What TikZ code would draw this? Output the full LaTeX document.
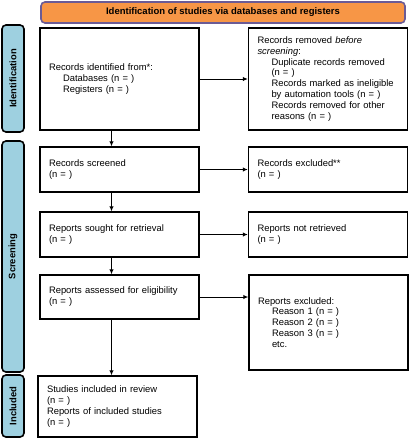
\documentclass[tikz,border=0pt]{standalone}
\usepackage{fontspec}
\setmainfont{Liberation Sans}
\usetikzlibrary{arrows.meta}

\definecolor{headfill}{HTML}{F79646}
\definecolor{headline}{HTML}{6B5B95}
\definecolor{barfill}{HTML}{9ED0E0}

\tikzset{
  box/.style={draw=black, line width=1.4pt, fill=white, text width=141pt, inner xsep=9pt,
    align=left, minimum width=159pt, font=\fontsize{9.4}{10.9}\selectfont},
  bar/.style={draw=black, line width=1.6pt, fill=barfill, rounded corners=4pt, rotate=90,
    minimum height=22pt, inner sep=0pt, font=\fontsize{9.4}{11}\selectfont\bfseries},
  head/.style={draw=headline, line width=1.6pt, fill=headfill, rounded corners=4pt,
    minimum width=364pt, minimum height=21pt, font=\fontsize{9.5}{11}\selectfont\bfseries},
  arr/.style={-{Latex[length=5pt,width=4.5pt]}, line width=1pt},
}
\newcommand\ind{\hspace*{14pt}}

\begin{document}
\begin{tikzpicture}[x=1pt, y=-1pt]
  \useasboundingbox (0,0) rectangle (410,440);

  % header
  \node[head] (hdr) at (223,12.5) {Identification of studies via databases and registers};

  % side bars
  \node[bar, minimum width=107pt] (idbar) at (13,78.5) {Identification};
  \node[bar, minimum width=231pt] (scrbar) at (13,256.5) {Screening};
  \node[bar, minimum width=62pt] (incbar) at (13,406) {Included};

  % identification
  \node[box, minimum height=102pt] (ident) at (119.5,79)
    {Records identified from*:\\ \ind Databases (n = )\\ \ind Registers (n = )};
  \node[box, minimum height=102pt] (removed) at (328,79)
    {Records removed \textit{before}\\ \textit{screening}:\\
     \ind Duplicate records removed\\ \ind (n = )\\
     \ind Records marked as ineligible\\ \ind by automation tools (n = )\\
     \ind Records removed for other\\ \ind reasons (n = )};

  % screening
  \node[box, minimum height=45pt] (screened) at (119.5,169.5) {Records screened\\ (n = )};
  \node[box, minimum height=45pt] (excluded) at (328,169.5) {Records excluded**\\ (n = )};
  \node[box, minimum height=45pt] (sought) at (119.5,234.5) {Reports sought for retrieval\\ (n = )};
  \node[box, minimum height=45pt] (notret) at (328,234.5) {Reports not retrieved\\ (n = )};
  \node[box, minimum height=44pt] (assessed) at (119.5,297) {Reports assessed for eligibility\\ (n = )};
  \node[box, minimum height=95pt] (repexcl) at (328.5,322.5)
    {Reports excluded:\\ \ind Reason 1 (n = )\\ \ind Reason 2 (n = )\\ \ind Reason 3 (n = )\\ \ind etc.};

  % included
  \node[box, minimum height=61pt] (included) at (117.5,406.5)
    {Studies included in review\\ (n = )\\ Reports of included studies\\ (n = )};

  % arrows
  \draw[arr] (ident.east) -- (removed.west);
  \draw[arr] (screened.east) -- (excluded.west);
  \draw[arr] (sought.east) -- (notret.west);
  \draw[arr] (assessed.east) -- (assessed.east -| repexcl.west);
  \draw[arr] ([xshift=-8pt]ident.south) -- ([xshift=-8pt]screened.north);
  \draw[arr] ([xshift=-8pt]screened.south) -- ([xshift=-8pt]sought.north);
  \draw[arr] ([xshift=-8pt]sought.south) -- ([xshift=-8pt]assessed.north);
  \draw[arr] ([xshift=-8pt]assessed.south) -- ([xshift=-6pt]included.north);
\end{tikzpicture}
\end{document}
